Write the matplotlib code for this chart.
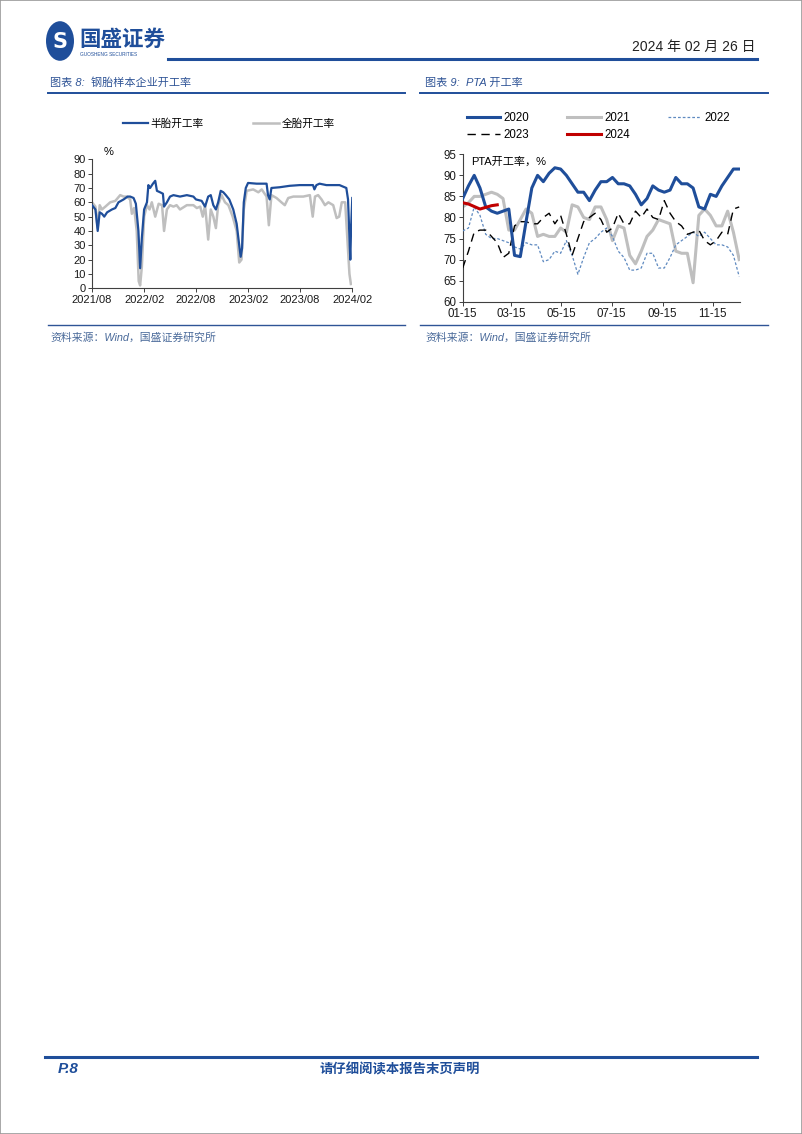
import matplotlib
matplotlib.use("Agg")
import matplotlib.pyplot as plt
import matplotlib.dates as mdates
from matplotlib.patches import Circle, Rectangle
from matplotlib.lines import Line2D
import pandas as pd

plt.rcParams['font.family'] = ['Liberation Sans', 'Noto Sans CJK SC', 'DejaVu Sans']

# ---- chart 8: tyre operating rate (%) ----
semi_dates = ['2021-08-01', '2021-08-13', '2021-08-21', '2021-08-28', '2021-09-05', '2021-09-13',
              '2021-09-23', '2021-10-10', '2021-10-22', '2021-11-02', '2021-11-20', '2021-12-04',
              '2021-12-13', '2021-12-25', '2022-01-02', '2022-01-11', '2022-01-17', '2022-01-23',
              '2022-01-31', '2022-02-10', '2022-02-15', '2022-02-21', '2022-03-03', '2022-03-11',
              '2022-03-17', '2022-03-28', '2022-04-07', '2022-04-11', '2022-04-21', '2022-05-02',
              '2022-05-14', '2022-06-06', '2022-06-30', '2022-07-23', '2022-08-01', '2022-08-21',
              '2022-09-02', '2022-09-13', '2022-09-22', '2022-10-01', '2022-10-10', '2022-10-18',
              '2022-10-27', '2022-11-05', '2022-11-14', '2022-11-26', '2022-12-10', '2022-12-22',
              '2022-12-31', '2023-01-05', '2023-01-10', '2023-01-16', '2023-01-23', '2023-01-31',
              '2023-03-02', '2023-04-06', '2023-04-11', '2023-04-17', '2023-04-23', '2023-05-22',
              '2023-06-26', '2023-07-31', '2023-09-16', '2023-09-21', '2023-09-28', '2023-10-09',
              '2023-11-02', '2023-12-18', '2023-12-30', '2024-01-11', '2024-01-17', '2024-01-23',
              '2024-01-25', '2024-01-28', '2024-02-01']
semi_rate = [58, 55, 40, 53, 52, 50,
             53, 55, 56, 60, 62, 64,
             64, 63, 59, 40, 14, 35,
             55, 60, 72, 70, 73, 75,
             68, 67, 66, 57, 60, 64,
             65, 64, 65, 64, 62, 61,
             57, 64, 65, 58, 55, 60,
             68, 67, 65, 62, 55, 45,
             30, 22, 28, 60, 70, 73.5,
             73, 73, 65, 62, 70, 70.5,
             71.5, 72, 72, 69, 72, 73,
             72, 72, 71, 70, 62, 30,
             20, 44, 63]

full_dates = ['2021-08-01', '2021-08-13', '2021-08-21', '2021-08-28', '2021-09-05', '2021-09-17',
              '2021-10-04', '2021-10-22', '2021-11-08', '2021-11-20', '2021-12-01', '2021-12-13',
              '2021-12-19', '2021-12-27', '2022-01-05', '2022-01-12', '2022-01-17', '2022-01-23',
              '2022-01-31', '2022-02-10', '2022-02-19', '2022-02-27', '2022-03-11', '2022-03-23',
              '2022-04-04', '2022-04-11', '2022-04-21', '2022-05-02', '2022-05-14', '2022-05-25',
              '2022-06-06', '2022-06-30', '2022-07-23', '2022-08-04', '2022-08-16', '2022-08-25',
              '2022-09-02', '2022-09-13', '2022-09-22', '2022-10-01', '2022-10-10', '2022-10-18',
              '2022-10-30', '2022-11-11', '2022-11-23', '2022-12-08', '2022-12-22', '2022-12-31',
              '2023-01-08', '2023-01-16', '2023-01-26', '2023-02-18', '2023-03-08', '2023-03-20',
              '2023-04-06', '2023-04-14', '2023-04-23', '2023-05-11', '2023-05-28', '2023-06-09',
              '2023-06-21', '2023-07-09', '2023-08-13', '2023-09-05', '2023-09-15', '2023-09-23',
              '2023-10-04', '2023-10-16', '2023-10-28', '2023-11-09', '2023-11-26', '2023-12-08',
              '2023-12-17', '2023-12-26', '2024-01-07', '2024-01-13', '2024-01-22', '2024-01-27']
full_rate = [60, 57, 42, 58, 55, 57,
             60, 61, 65, 64, 64, 62,
             52, 56, 40, 5, 2, 15,
             50, 58, 55, 60, 50, 59,
             58, 40, 55, 58, 57, 58,
             55, 58, 58, 56, 57, 50,
             58, 34, 55, 50, 42, 58,
             65, 60, 58, 50, 40, 18,
             20, 55, 68, 69, 67, 69,
             64, 44, 65, 63, 60, 58,
             63, 64, 64, 65, 50, 64,
             65, 62, 58, 60, 58, 49,
             50, 60, 60, 40, 10, 3]

tyre_ticks = ['2021-08-01', '2022-02-01', '2022-08-01', '2023-02-01', '2023-08-01', '2024-02-01']

# ---- chart 9: PTA operating rate (%), weekly from 01-15 ----
pta_2020 = [84.5, 87.5, 90.0, 87.0, 82.5, 81.5, 81.0, 81.5, 82.0, 71.0,
            70.7, 79.0, 87.0, 90.0, 88.5, 90.5, 91.8, 91.5, 90.0, 88.0,
            86.0, 86.0, 84.0, 86.5, 88.5, 88.5, 89.5, 88.0, 88.0, 87.5,
            85.5, 83.0, 84.5, 87.5, 86.5, 86.0, 86.5, 89.5, 88.0, 88.0,
            87.0, 82.5, 82.0, 85.5, 85.0, 87.5, 89.5, 91.5, 91.5]
pta_2021 = [82.5, 83.5, 85.0, 85.0, 85.5, 86.0, 85.5, 84.5, 77.0, 77.0,
            79.5, 82.0, 81.0, 75.5, 76.0, 75.5, 75.5, 77.5, 76.5, 83.0,
            82.5, 80.0, 79.5, 82.5, 82.5, 79.5, 74.5, 78.0, 77.5, 71.0,
            69.0, 72.0, 75.5, 77.0, 79.5, 79.0, 78.5, 72.0, 71.5, 71.5,
            64.5, 80.5, 82.0, 80.5, 78.0, 78.0, 81.5, 76.5, 70.0]
pta_2022 = [76.8, 77.5, 82.5, 80.5, 76.0, 75.0, 75.0, 74.5, 74.0, 73.0,
            72.5, 74.0, 73.5, 73.5, 69.5, 70.0, 72.0, 71.5, 74.5, 71.0,
            66.5, 70.5, 74.0, 75.0, 76.5, 77.5, 75.5, 72.0, 70.5, 67.5,
            67.5, 68.0, 71.5, 71.5, 68.0, 68.0, 70.5, 73.5, 74.5, 75.5,
            76.5, 75.5, 76.5, 75.0, 73.5, 73.5, 73.0, 71.0, 66.0]
pta_2023 = [68.0, 72.0, 76.5, 77.0, 77.0, 75.5, 74.0, 70.5, 71.5, 78.0,
            79.0, 79.0, 78.5, 78.5, 80.0, 81.0, 78.5, 80.5, 76.0, 71.0,
            75.0, 79.0, 80.0, 81.0, 79.5, 76.5, 77.5, 81.0, 78.5, 78.5,
            81.5, 80.0, 82.0, 80.0, 79.5, 84.0, 81.0, 79.0, 78.0, 76.0,
            76.5, 77.0, 74.5, 73.5, 74.5, 76.5, 76.0, 82.0, 82.5]
pta_2024 = [83.5, 83.2, 82.6, 82.0, 82.4, 82.8, 83.0]
pta_ticks = ['2021-01-15', '2021-03-15', '2021-05-15', '2021-07-15', '2021-09-15', '2021-11-15']

NAVY = '#1F4E9A'
GREY = '#BFBFBF'
W, H = 802, 1134


def fx(px):
    return px / W


def fy(py):
    return 1 - py / H


fig = plt.figure(figsize=(W / 100, H / 100), dpi=100)
fig.patches.append(Rectangle((0, 0), 1, 1, transform=fig.transFigure, fill=False,
                             edgecolor='#9A9A9A', linewidth=1.2))

# header
fig.patches.append(Circle((fx(60), fy(41)), 14 / W, transform=fig.transFigure,
                          facecolor=NAVY, edgecolor='none'))
fig.text(fx(60), fy(42), 'S', color='white', fontsize=15, fontweight='bold',
         ha='center', va='center', family=['DejaVu Sans'])
fig.text(fx(79), fy(39), '国盛证券', color=NAVY, fontsize=15.5, fontweight='bold',
         va='center', family=['Noto Sans CJK SC'])
fig.text(fx(80), fy(55), 'GUOSHENG SECURITIES', color=NAVY, fontsize=3.4, va='center')
fig.text(fx(755), fy(47), '2024 年 02 月 26 日', fontsize=10, ha='right', va='center',
         color='#222222', family=['Liberation Sans', 'Noto Sans CJK SC'])
fig.add_artist(Line2D([fx(168), fx(757)], [fy(59), fy(59)], color=NAVY, lw=2.2))

# chart titles and rules
title_kw = dict(fontsize=8, color='#2F5496', va='center', style='italic',
                family=['Liberation Sans', 'Noto Sans CJK SC'])
fig.text(fx(50), fy(83), '图表 8:  钢胎样本企业开工率', **title_kw)
fig.text(fx(425), fy(83), '图表 9:  PTA 开工率', **title_kw)
for x0, x1 in [(48, 405), (420, 768)]:
    fig.add_artist(Line2D([fx(x0), fx(x1)], [fy(93), fy(93)], color=NAVY, lw=1.4))
    fig.add_artist(Line2D([fx(x0), fx(x1)], [fy(325), fy(325)], color='#2F5496', lw=1.0))
src_kw = dict(fontsize=7.8, color='#4A6A9A', va='center', style='italic',
              family=['Liberation Sans', 'Noto Sans CJK SC'])
fig.text(fx(50), fy(338), '资料来源：Wind，国盛证券研究所', **src_kw)
fig.text(fx(425), fy(338), '资料来源：Wind，国盛证券研究所', **src_kw)

# footer
fig.add_artist(Line2D([fx(45), fx(757)], [fy(1057), fy(1057)], color=NAVY, lw=2.2))
fig.text(fx(58), fy(1069), 'P.8', fontsize=11, fontweight='bold', style='italic',
         color=NAVY, va='center')
fig.text(fx(400), fy(1069), '请仔细阅读本报告末页声明', fontsize=9.6, fontweight='bold',
         color=NAVY, va='center', ha='center', family=['Noto Sans CJK SC'])


def style_axes(ax, size):
    for side in ['top', 'right']:
        ax.spines[side].set_visible(False)
    for side in ['left', 'bottom']:
        ax.spines[side].set_color('#404040')
        ax.spines[side].set_linewidth(0.8)
    ax.tick_params(axis='both', labelsize=size, length=3, width=0.7, color='#404040',
                   pad=1.5, labelcolor='#1A1A1A')


# ---- left chart ----
ax1 = fig.add_axes([fx(92), fy(288.3), fx(352.3) - fx(92), (288.3 - 159.3) / H])
ax1.plot(pd.to_datetime(full_dates), full_rate, color=GREY, lw=1.8, label='全胎开工率', zorder=2)
ax1.plot(pd.to_datetime(semi_dates), semi_rate, color=NAVY, lw=1.6, label='半胎开工率', zorder=3)
ax1.set_ylim(0, 90)
ax1.set_yticks(range(0, 91, 10))
ax1.set_xlim(pd.Timestamp(tyre_ticks[0]), pd.Timestamp(tyre_ticks[-1]))
ax1.set_xticks(pd.to_datetime(tyre_ticks))
ax1.xaxis.set_major_formatter(mdates.DateFormatter('%Y/%m'))
style_axes(ax1, 8)
ax1.text(0.045, 1.06, '%', transform=ax1.transAxes, fontsize=8, va='center')
h, l = ax1.get_legend_handles_labels()
ax1.legend(h[::-1], l[::-1], ncol=2, frameon=False, loc='center',
           bbox_to_anchor=(0.525, 1.28), handlelength=2.4, columnspacing=4.6,
           handletextpad=0.25, prop={'family': ['Noto Sans CJK SC'], 'size': 7.7})

# ---- right chart ----
ax2 = fig.add_axes([fx(462.7), fy(301.7), fx(740) - fx(462.7), (301.7 - 154.3) / H])
weeks = pd.date_range('2021-01-15', periods=len(pta_2020), freq='7D')
l2020, = ax2.plot(weeks, pta_2020, color=NAVY, lw=2.2, label='2020', zorder=4)
l2021, = ax2.plot(weeks[:len(pta_2021)], pta_2021, color=GREY, lw=2.2, label='2021', zorder=2)
l2022, = ax2.plot(weeks[:len(pta_2022)], pta_2022, color='#5F8AC0', lw=0.9,
                  dashes=(2.2, 1.6), label='2022', zorder=3)
l2023, = ax2.plot(weeks[:len(pta_2023)], pta_2023, color='black', lw=1.0,
                  dashes=(6, 4), label='2023', zorder=3)
l2024, = ax2.plot(weeks[:len(pta_2024)], pta_2024, color='#C00000', lw=2.2, label='2024', zorder=5)
ax2.set_ylim(60, 95)
ax2.set_yticks(range(60, 96, 5))
ax2.set_xlim(pd.Timestamp('2021-01-15'), pd.Timestamp('2021-12-18'))
ax2.set_xticks(pd.to_datetime(pta_ticks))
ax2.xaxis.set_major_formatter(mdates.DateFormatter('%m-%d'))
style_axes(ax2, 8.3)
ax2.text(0.03, 0.95, 'PTA开工率，%', transform=ax2.transAxes, fontsize=8, va='center',
         family=['Liberation Sans', 'Noto Sans CJK SC'])
ax2.legend([l2020, l2023, l2021, l2024, l2022], ['2020', '2023', '2021', '2024', '2022'],
           ncol=3, frameon=False, loc='center', bbox_to_anchor=(0.49, 1.19), fontsize=8.3,
           handlelength=2.9, columnspacing=3.3, handletextpad=0.3, labelspacing=0.45)

fig.savefig('out.png', dpi=100)
